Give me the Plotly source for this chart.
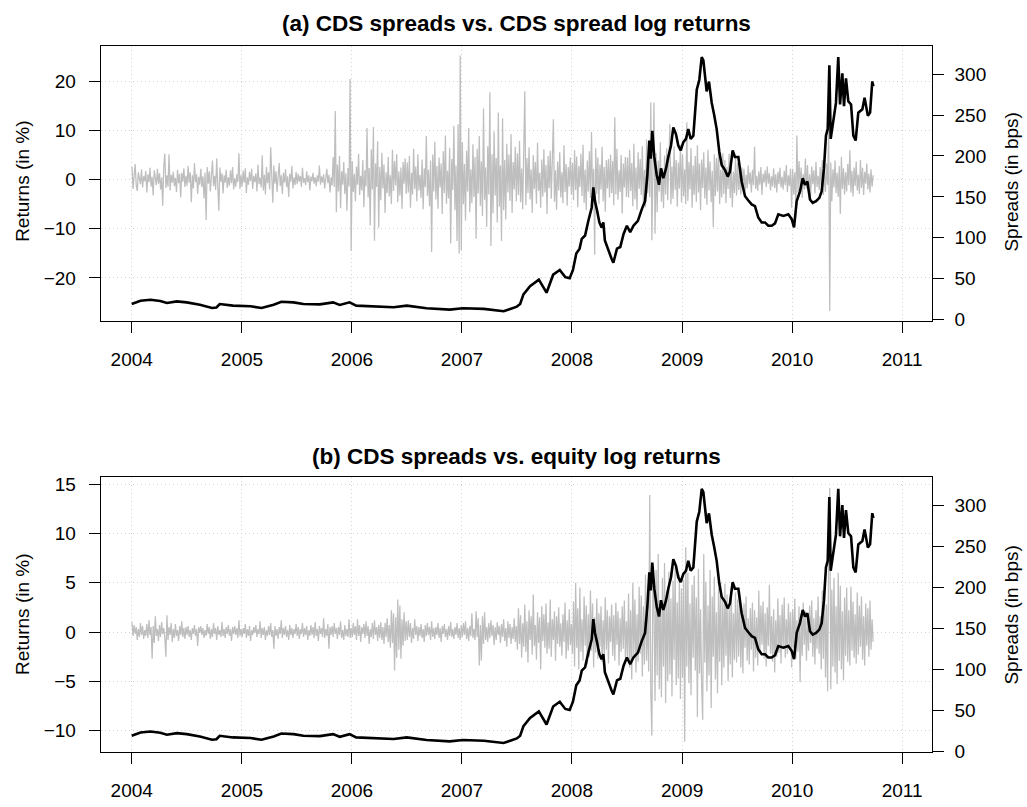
import pandas as pd
import plotly.graph_objects as go

# ---------------- data ----------------
# CDS spread (bps) (same series in both panels)
spread_years = [
    2004.00, 2004.04, 2004.08, 2004.17, 2004.26, 2004.32, 2004.41, 2004.50, 2004.62, 2004.73,
    2004.77, 2004.80, 2004.92, 2005.08, 2005.18, 2005.29, 2005.36, 2005.47, 2005.56, 2005.71,
    2005.83, 2005.89, 2005.98, 2006.04, 2006.20, 2006.38, 2006.50, 2006.68, 2006.89, 2007.01,
    2007.20, 2007.38, 2007.44, 2007.50, 2007.53, 2007.56, 2007.62, 2007.70, 2007.77, 2007.83,
    2007.89, 2007.94, 2007.98, 2008.01, 2008.04, 2008.07, 2008.09, 2008.12, 2008.15, 2008.18,
    2008.195, 2008.21, 2008.23, 2008.25, 2008.27, 2008.286, 2008.30, 2008.33, 2008.36, 2008.377,
    2008.41, 2008.44, 2008.47, 2008.50, 2008.53, 2008.56, 2008.60, 2008.635, 2008.665, 2008.686,
    2008.704, 2008.717, 2008.731, 2008.749, 2008.771, 2008.792, 2008.81, 2008.831, 2008.856, 2008.876,
    2008.901, 2008.922, 2008.946, 2008.967, 2008.989, 2009.013, 2009.037, 2009.058, 2009.08, 2009.104,
    2009.12, 2009.135, 2009.158, 2009.18, 2009.195, 2009.21, 2009.225, 2009.246, 2009.271, 2009.292,
    2009.316, 2009.34, 2009.362, 2009.392, 2009.416, 2009.437, 2009.461, 2009.482, 2009.513, 2009.543,
    2009.574, 2009.604, 2009.634, 2009.664, 2009.694, 2009.725, 2009.755, 2009.785, 2009.816, 2009.846,
    2009.876, 2009.922, 2009.967, 2009.998, 2010.019, 2010.043, 2010.073, 2010.098, 2010.119, 2010.14,
    2010.164, 2010.189, 2010.219, 2010.249, 2010.27, 2010.291, 2010.309, 2010.325, 2010.34, 2010.352,
    2010.376, 2010.40, 2010.421, 2010.437, 2010.458, 2010.473, 2010.491, 2010.512, 2010.537, 2010.558,
    2010.579, 2010.603, 2010.64, 2010.66, 2010.69, 2010.71, 2010.73, 2010.74,
]
spreads = [
    19.2, 21.5, 23.2, 24.4, 22.8, 20.4, 22.4, 21.2, 18.4, 14.4,
    15.0, 19.2, 17.2, 16.4, 14.4, 18.4, 22.0, 21.2, 19.2, 18.8,
    21.2, 18.0, 21.2, 17.2, 16.0, 15.2, 17.2, 14.0, 12.4, 14.0,
    13.2, 10.4, 13.2, 16.0, 19.2, 31, 41, 49, 33, 55,
    60.8, 52, 50.8, 60.8, 80.8, 86.8, 98.8, 102.8, 120.8, 136.8,
    161.6, 144.8, 132.8, 118.8, 112.8, 118.8, 96.8, 84.8, 74.8, 69.6,
    86.8, 88.8, 104.8, 114.8, 106.8, 114.8, 120.8, 134.8, 144.8, 176.8,
    218.8, 196.8, 230.8, 198.8, 176.8, 164.8, 184.8, 172.8, 184.8, 198.8,
    212.8, 234.8, 226.8, 212.8, 206.8, 216.8, 220.8, 232.8, 220.8, 224.8,
    256.8, 280.8, 292.8, 320.8, 316.8, 292.8, 278.8, 290.8, 264.8, 250.8,
    232.8, 204.8, 188.8, 182.8, 174.8, 180.8, 206.8, 198.8, 198.8, 168.8,
    150.8, 145.6, 140.8, 138.8, 124.8, 118.8, 118.8, 114.8, 114.8, 117.6,
    128.8, 126.8, 128.8, 122.8, 112.8, 144.8, 156.8, 172.8, 164.8, 168.8,
    146.8, 142.8, 144.8, 148.8, 156.8, 184.8, 224.8, 232.8, 310.8, 220.8,
    244.8, 264.8, 320.8, 262.8, 300.8, 260.8, 294.8, 266.8, 262.8, 224.8,
    218.8, 252.8, 257, 271, 249, 253, 291, 285,
]

# CDS spread log returns (in %), two readings per week, panel (a)
cds_returns = [
    # 2004 H1
    2.6, -1.9, 0.8, 3.2, -1.2, -2.3, 1.5, 0.4, -0.9, 2.1, -1.6, 0.7, -0.3,
    1.8, -2.6, 1.1, -0.5, 2.4, -1.4, 0.6, -3.2, 1.9, 0.3, -1.1, 2.2, -0.8,
    1.3, -2.0, 0.5, -5.3, 2.7, 5.3, -1.7, 0.9, -1.4, 5.2, -2.2, 1.0, -0.6,
    1.6, -1.3, 0.4, -2.5, 2.0, -0.7, 1.2, -3.6, 1.4, -0.4, 2.3, -1.5, 0.8,
    # 2004 H2
    -1.2, 2.8, -0.6, 1.5, -4.6, 0.9, -1.8, 3.4, -0.5, 1.1, -2.9, 0.6, -1.0,
    2.2, -1.5, 0.7, -3.8, 1.4, -8.2, 2.6, -0.8, 1.7, -2.4, 0.5, 3.9, -1.3,
    0.8, -2.1, 4.3, -1.1, -6.3, 2.5, -0.4, 1.3, -2.8, 0.9, -0.6, 2.0, -1.7,
    0.5, -1.2, 1.9, -0.7, 2.6, -2.0, 0.3, -1.4, 1.1, -0.5, 5.4, -1.9, 0.9,
    # 2005 H1
    -1.4, 1.8, -0.6, 2.3, -2.7, 0.5, -1.0, 1.6, -0.3, 2.2, -1.9, 0.8, -0.5,
    1.3, -2.4, 3.1, -0.9, 0.4, -1.6, 4.9, -2.2, 1.0, -3.0, 2.6, -0.7, 1.5,
    -2.0, 6.6, -1.2, -4.7, 2.9, -0.8, 1.7, -2.5, 0.6, 3.4, -1.3, 0.9, -2.9,
    1.4, -0.6, 2.1, -1.5, 0.7, -3.5, 1.2, -0.4, 2.8, -1.8, 0.5, -1.1, 1.6,
    # 2005 H2
    -0.9, 1.2, -0.4, 0.8, -1.5, 2.4, -0.6, 0.3, -1.1, 1.7, -0.5, 0.9, -2.2,
    0.6, -0.3, 1.4, -0.8, 0.5, -1.3, 0.9, -0.4, 2.9, -1.0, 0.7, -0.6, 1.1,
    -1.8, 0.4, 2.2, -0.7, 1.0, -2.6, 0.5, -1.2, 4.6, -1.5, 14.0, -6.6, 3.1,
    -2.4, 4.8, -5.8, 1.7, -1.0, 3.6, -2.9, 1.3, -6.3, 2.4, -1.4, 20.5, -14.5,
    # 2006 H1
    3.8, -2.5, 1.2, -4.4, 2.7, -1.0, 5.3, -3.1, 0.8, -2.2, 4.0, -5.6, 1.9,
    -1.4, 10.5, -3.6, 2.4, -9.3, 6.2, -2.0, 10.7, -12.4, 3.3, -1.5, 7.8, -9.8,
    2.6, -4.2, 5.5, -1.8, 3.1, -6.8, 1.5, -2.7, 4.6, -3.4, 0.9, -5.0, 6.1,
    -2.3, 3.8, -1.2, 5.2, -4.6, 1.7, -3.2, 2.5, -5.9, 3.6, -0.8, 4.3, -2.9,
    # 2006 H2
    3.5, -2.6, 4.8, -5.7, 1.4, -3.0, 6.3, -1.9, 2.7, -4.4, 5.2, -2.2, 1.0,
    -3.7, 4.1, -6.0, 2.3, -1.5, 8.9, -3.3, 2.0, -5.4, 3.9, -14.7, 5.1, -2.4,
    7.7, -4.0, 2.8, -5.9, 4.5, -1.6, 3.3, -7.0, 5.8, -2.7, 9.0, -4.9, 1.8,
    -3.8, 6.5, -13.0, 4.2, -2.1, 11.0, -6.2, 2.9, -12.5, 11.3, -15.0, 25.3, -14.3,
    # 2007 H1
    7.6, -5.0, 3.2, -8.3, 5.9, -2.4, 10.5, -6.6, 2.1, -4.8, 7.2, -3.5, 4.6,
    -12.0, 6.3, -2.8, 8.9, -5.3, 3.7, -7.4, 14.5, -4.1, 2.5, -9.6, 6.8, -3.0,
    17.8, -13.5, 5.2, -6.9, 9.8, -3.2, 4.4, -8.7, 13.7, -5.5, 2.9, -12.5, 12.5,
    -6.2, 4.0, -8.1, 7.3, -2.6, 5.1, -4.3, 9.3, -6.8, 3.6, -2.0, 6.7, -4.4,
    # 2007 H2
    5.4, -3.1, 7.9, -4.6, 2.3, -6.0, 3.8, 18.0, -5.2, 4.4, -2.7, 6.6, -4.0,
    2.1, -6.8, 5.0, -1.9, 3.6, -4.9, 7.5, -2.3, 1.4, -5.7, 4.1, -3.4, 6.2,
    -2.6, 3.0, -7.0, 4.8, -1.7, 5.9, -3.9, 2.4, 12.3, -4.5, 1.9, -6.1, 3.7,
    -2.2, 5.6, -3.6, 1.5, -4.8, 7.0, -2.5, 3.2, -5.3, 2.6, -1.4, 4.5, -3.0,
    # 2008 H1
    3.4, -4.2, 6.0, -2.1, 4.7, -5.6, 2.8, -1.5, 5.3, -3.3, 7.1, -4.7, 2.0,
    -6.2, 3.9, -2.4, 5.8, -3.7, 9.7, -4.1, 2.2, -15.3, 6.4, -2.9, 4.5, -5.0,
    3.1, -2.0, 6.7, -4.4, 2.6, -6.5, 4.0, -1.8, 4.2, -3.6, 5.1, -2.7, 3.8,
    -5.2, 12.7, -3.0, 6.3, -4.1, 1.9, -2.5, 5.0, -6.9, 3.3, -1.6, 4.6, -3.5,
    # 2008 H2
    4.5, -3.6, 6.1, -2.3, 3.4, -5.4, 7.3, -4.0, 2.5, -6.1, 5.6, -1.9, 4.2,
    -3.1, 6.8, -4.9, 2.0, -5.6, 8.2, -2.8, 4.6, -3.5, 15.7, -12.3, 6.0, 15.7,
    -11.0, 5.4, -6.6, 3.9, -2.4, 7.6, -4.5, 2.2, -5.8, 4.9, -3.0, 6.4, -4.2,
    3.1, 11.3, -5.0, 2.7, -3.9, 6.8, -2.1, 4.0, -5.5, 3.5, -1.8, 7.1, -4.6,
    # 2009 H1
    5.2, -3.4, 2.1, -5.0, 11.7, -4.3, 3.6, -2.0, 6.4, -5.7, 2.9, -3.1, 4.8,
    -4.5, 7.0, -2.6, 3.3, -6.2, 4.1, -1.7, 5.6, -3.8, 2.5, -5.1, 6.1, -2.2,
    3.7, -4.6, 1.8, -9.7, 5.2, -3.3, 4.4, -2.4, 6.3, -5.0, 2.0, -3.6, 5.4,
    -2.9, 4.0, -4.8, 2.6, -1.9, 5.3, -3.7, 3.0, -5.6, 1.6, -2.7, 4.5, -3.2,
    # 2009 H2
    3.4, -2.1, 1.6, -3.0, 2.5, -1.3, 2.2, -2.4, 1.0, -1.8, 2.9, -0.9, 1.5,
    -2.6, 2.0, -1.1, 6.7, -1.9, 0.8, -2.3, 1.7, -1.0, 2.6, -3.1, 1.2, -0.6,
    1.9, -1.5, 2.7, -0.8, 1.3, -2.2, 0.7, -1.4, 2.3, -1.7, 1.1, -2.6, 1.6,
    -0.9, 2.4, -1.6, 0.6, -2.0, 1.8, -1.1, 3.0, -2.5, 0.9, -1.3, 2.2, -5.7,
    # 2010
    2.2, -3.0, 1.5, -5.6, 9.0, -2.6, 3.8, -1.4, 2.5, -3.7, 1.2, -2.0, 4.3,
    -1.8, 3.0, -2.4, 1.1, -3.3, 2.7, -0.9, 1.9, -2.8, 3.6, -1.5, 0.8, -2.1,
    2.6, -1.2, 4.0, -3.1, 1.7, -2.5, 3.3, -1.0, 10.3, -26.7, 3.5, -4.4, 2.1,
    -1.6, 3.9, -2.7, 1.4, -3.5, 2.8, -7.0, 4.6, -1.9, 2.3, -3.0, 1.5, -2.4,
    3.2, -1.1, 6.0, -2.6, 1.8, -3.4, 2.5, -1.3, 3.7, -2.2, 1.0, -2.9, 4.0,
    -1.7, 2.4, -3.1, 1.6, -0.8, 3.3, -2.0, 1.2, -2.6, 2.1, -1.4, 0.9,
]

# equity log returns (in %), two readings per week, panel (b)
equity_returns = [
    # 2004 H1
    1.0, -0.4, 0.7, -0.2, 0.5, -0.8, 0.3, -0.5, 0.9, -0.3, 0.6, -0.7, 0.2,
    -0.4, 0.8, -0.6, 1.2, -0.3, 0.5, -2.7, 0.6, -1.1, 1.6, -0.4, 0.3, -0.9,
    0.7, -0.5, 1.0, -0.2, 0.4, -0.6, -2.5, 1.7, -0.8, 0.5, -0.3, 0.9, -1.0,
    0.3, -0.6, 0.8, -0.4, 0.2, -0.9, 0.6, -0.3, 1.1, -0.5, 0.4, -0.7, 0.5,
    # 2004 H2
    -0.3, 0.6, -0.5, 0.2, -0.8, 0.4, -0.2, 0.7, -0.4, 0.3, -1.4, 0.5, -0.1,
    0.6, -0.3, 0.4, -0.6, 0.2, -0.4, 0.8, -0.2, 0.5, -0.7, 0.3, -0.5, 0.9,
    -0.2, 0.4, -0.8, 0.6, -0.3, 0.2, -0.5, 1.0, -0.4, 0.3, -0.6, 0.5, -0.2,
    0.7, -0.4, 0.3, -0.9, 0.5, -0.2, 0.6, -0.3, 0.4, -0.6, 1.2, -0.4, 0.3,
    # 2005 H1
    -0.5, 0.4, -0.2, 0.8, -0.6, 0.3, -0.4, 0.6, -0.9, 0.2, -0.3, 0.5, -0.1,
    0.7, -0.5, 0.3, -0.2, 1.1, -0.6, 0.4, -0.3, 0.5, -0.8, 0.2, -0.4, 0.6,
    -0.3, 0.9, -0.5, 0.2, -1.7, 0.6, -0.4, 0.3, -0.7, 0.5, -0.2, 1.2, -0.6,
    0.4, -0.3, 0.6, -0.5, 0.2, -0.8, 0.7, -0.3, 0.4, -0.6, 0.3, -0.2, 0.8,
    # 2005 H2
    -0.4, 0.5, -0.7, 0.3, -0.2, 0.9, -0.5, 0.4, -0.3, 0.6, -0.8, 0.2, -0.4,
    0.7, -0.3, 0.5, -0.6, 1.0, -0.4, 0.3, -0.9, 0.6, -0.2, 0.4, -0.5, 1.4,
    -0.6, 0.3, -0.4, 0.8, -1.7, 0.5, -0.3, 0.6, -0.5, 0.9, -0.2, 0.4, -0.7,
    0.5, -0.3, 1.1, -0.6, 0.2, -0.8, 0.7, -0.4, 0.3, -0.5, 1.3, -0.6, 0.4,
    # 2006 H1
    -0.5, 0.9, -0.3, 0.6, -0.8, 1.3, -0.4, 0.7, -1.0, 0.5, -0.2, 0.8, -0.6,
    1.1, -0.4, 0.6, -1.2, 0.3, -0.5, 0.9, -0.7, 1.2, -0.3, 0.5, -0.9, 0.7,
    -0.6, 1.0, -0.8, 0.5, -1.2, 0.9, -0.5, 1.4, -1.0, 0.7, -1.6, 2.2, -1.1,
    1.9, -3.9, 1.5, -2.6, 3.3, -1.8, 2.7, -2.7, 1.3, -1.4, 2.0, -0.9, 1.1,
    # 2006 H2
    -0.8, 1.2, -0.5, 0.9, -1.1, 0.4, -0.7, 1.3, -0.3, 0.6, -0.9, 0.5, -0.4,
    0.8, -0.6, 0.3, -1.0, 0.7, -0.4, 0.9, -0.3, 0.5, -0.8, 1.1, -0.5, 0.4,
    -0.7, 0.5, -0.3, 0.9, -0.6, 0.4, -1.0, 0.6, -0.2, 0.8, -0.5, 0.3, -0.8,
    0.6, -0.4, 1.0, -0.5, 0.3, -0.7, 0.5, -0.3, 0.9, -0.6, 0.4, -0.8, 0.7,
    # 2007 H1
    -0.5, 0.9, -0.3, 1.1, -0.7, 0.4, -0.9, 0.6, -0.4, 1.9, -0.6, 0.3, -0.8,
    2.1, -0.5, 1.4, -3.4, 0.7, -2.9, 1.6, -1.2, 2.0, -0.8, 0.5, -1.0, 0.9,
    -0.6, 1.2, -0.4, 0.7, -1.3, 0.5, -0.8, 1.0, -0.3, 0.6, -1.1, 0.8, -0.5,
    1.3, -0.9, 0.4, -1.5, 1.1, -0.6, 0.8, -1.2, 0.5, -0.7, 1.4, -1.0, 0.6,
    # 2007 H2
    -1.8, 2.4, -1.2, 1.7, -2.6, 0.9, -1.5, 2.8, -2.0, 1.1, -3.1, 2.2, -0.8,
    1.6, -2.3, 3.8, -1.4, 0.7, -2.8, 2.0, -1.1, 1.5, -3.8, 2.6, -0.9, 1.8,
    -1.6, 2.9, -2.2, 1.0, -1.7, 3.3, -2.5, 1.3, -0.8, 2.1, -2.9, 1.6, -1.2,
    2.5, -1.5, 0.9, -2.4, 1.8, -1.0, 3.0, -2.7, 1.2, -1.9, 2.3, -1.3, 0.8,
    # 2008 H1
    -2.2, 3.1, -3.5, 5.0, -1.6, 2.4, -3.8, 4.5, -2.0, 1.3, -2.9, 3.6, -1.4,
    2.7, -3.3, 1.8, -2.5, 4.2, -1.9, 2.9, -3.6, 1.5, -2.1, 3.4, -2.7, 1.9,
    -1.5, 2.6, -3.0, 1.2, -2.3, 3.5, -1.8, 2.2, -3.2, 1.6, -1.0, 2.8, -2.4,
    1.7, -2.9, 3.0, -1.3, 2.1, -3.4, 1.4, -2.0, 2.6, -1.7, 3.2, -2.6, 1.1,
    # 2008 H2
    -2.8, 3.9, -3.6, 2.2, -4.8, 5.0, -2.4, 3.3, -4.1, 1.8, -3.0, 4.6, -2.2,
    3.7, -4.5, 2.6, -3.3, 5.8, -2.9, 1.9, -4.0, 13.9, -6.2, -10.5, 5.4, 3.1,
    -7.0, 6.3, -4.4, 7.9, -5.8, 3.2, -6.6, 5.5, -3.5, 7.0, -7.2, 4.1, -5.0,
    6.1, -4.3, 3.4, -6.5, 5.2, -2.8, 6.6, -5.4, 3.0, -4.7, 5.8, -6.8, 4.4,
    # 2009 H1
    -4.6, 5.3, -11.1, 8.6, -3.5, 6.0, -5.2, 2.9, -6.4, 4.8, -2.6, 5.7, -3.9,
    3.5, -8.6, 6.4, -4.2, 2.3, -5.5, -8.9, 7.9, -3.1, 5.1, -6.0, 2.7, -4.4,
    6.3, -7.7, 3.6, -2.5, 5.6, -4.8, 2.0, -6.2, 4.5, -3.0, 5.0, -5.4, 3.2,
    -3.6, 4.9, -2.4, 3.8, -5.0, 2.5, -3.3, 4.4, -4.6, 1.9, -2.8, 4.0, -3.1,
    # 2009 H2
    3.3, -2.5, 4.1, -3.6, 1.8, -4.2, 2.9, -1.6, 3.6, -2.9, 1.4, -3.3, 2.4,
    -1.8, 3.0, -4.0, 2.2, -2.6, 1.5, -3.4, 4.2, -2.0, 2.7, -1.3, 3.1, -2.7,
    1.9, -3.5, 2.5, -1.4, 4.8, -2.2, 1.6, -3.0, 2.3, -4.1, 1.2, -2.5, 3.4,
    -2.1, 1.7, -3.2, 2.8, -1.5, 3.5, -2.6, 1.3, -2.2, 2.9, -1.7, 2.0, -3.6,
    # 2010
    2.3, -1.6, 3.4, -2.7, 1.2, -2.0, 2.6, -5.1, 1.8, -2.4, 3.0, -1.3, 2.1,
    -2.9, 1.5, -1.9, 2.7, -1.1, 3.2, -2.5, 1.4, -3.3, 2.2, -1.7, 3.6, -2.2,
    1.6, -3.8, 4.2, -2.7, 5.1, -4.6, 2.8, -6.0, 7.5, 14.6, -5.8, 4.3, -3.5,
    5.5, -4.1, 2.6, -5.3, 6.0, -2.9, 4.7, -3.8, 2.1, -4.9, 3.5, -2.4, 4.5,
    -3.0, 2.2, -3.4, 4.6, -1.9, 3.1, -2.6, 1.8, -3.2, 4.0, -2.3, 2.7, -1.5,
    3.6, -2.8, 1.6, -3.4, 2.9, -1.4, 2.4, -2.5, 3.2, -1.8, 1.3, -1.0,
]

year_ticks = [2004, 2005, 2006, 2007, 2008, 2009, 2010, 2011]
ret_ticks_a = [-20, -10, 0, 10, 20]
ret_ticks_b = [-10, -5, 0, 5, 10, 15]
spread_ticks = [0, 50, 100, 150, 200, 250, 300]

# ---------------- helpers ----------------
W, H = 1027, 807
FONT = "Liberation Sans, Arial, Helvetica, sans-serif"


def yr_to_date(y):
    return pd.Timestamp("2004-01-01") + pd.to_timedelta((y - 2004.0) * 365.25, unit="D")


spread_dates = [yr_to_date(y) for y in spread_years]
cds_dates = pd.date_range("2004-01-02", "2010-09-27", periods=len(cds_returns))
eq_dates = pd.date_range("2004-01-02", "2010-09-27", periods=len(equity_returns))

x_range = [yr_to_date(2003.7183), yr_to_date(2011.27)]
x_dom = [100.7 / W, 931.7 / W]
dom_a = [1 - 322.3 / H, 1 - 42.3 / H]
dom_b = [1 - 761.7 / H, 1 - 481.7 / H]

GRAY = "#BEBEBE"
fig = go.Figure()
fig.add_trace(go.Scatter(x=cds_dates, y=cds_returns, mode="lines",
                         line=dict(color=GRAY, width=1.25), xaxis="x", yaxis="y"))
fig.add_trace(go.Scatter(x=spread_dates, y=spreads, mode="lines",
                         line=dict(color="black", width=2.6), xaxis="x", yaxis="y2"))
fig.add_trace(go.Scatter(x=eq_dates, y=equity_returns, mode="lines",
                         line=dict(color=GRAY, width=1.25), xaxis="x2", yaxis="y3"))
fig.add_trace(go.Scatter(x=spread_dates, y=spreads, mode="lines",
                         line=dict(color="black", width=2.6), xaxis="x2", yaxis="y4"))

tickfont = dict(family=FONT, size=19, color="black")
grid = dict(showgrid=True, gridcolor="#D3D3D3", griddash="1px,3px", gridwidth=1)
xcommon = dict(range=x_range, domain=x_dom,
               tickvals=[pd.Timestamp(f"{y}-01-01") for y in year_ticks],
               ticktext=[str(y) for y in year_ticks],
               ticks="outside", ticklen=11, tickcolor="black", tickwidth=1,
               showline=True, linecolor="black", linewidth=1, mirror=True,
               zeroline=False, tickfont=tickfont, ticklabelstandoff=10, **grid)
yleft = dict(ticks="outside", ticklen=11, tickcolor="black", tickwidth=1,
             showline=True, linecolor="black", linewidth=1, mirror=True,
             zeroline=False, tickfont=tickfont, ticklabelstandoff=9, **grid)
yright = dict(side="right", ticks="outside", ticklen=11, tickcolor="black", tickwidth=1,
              showline=False, showgrid=False, zeroline=False, tickfont=tickfont,
              tickvals=spread_ticks, range=[-1.2, 334.8], ticklabelstandoff=7)

fig.update_layout(
    width=W, height=H, autosize=False,
    margin=dict(l=0, r=0, t=0, b=0),
    paper_bgcolor="white", plot_bgcolor="white",
    showlegend=False, hovermode=False,
    font=dict(family=FONT, color="black"),
    xaxis=dict(anchor="y", **xcommon),
    xaxis2=dict(anchor="y3", **xcommon),
    yaxis=dict(anchor="x", domain=dom_a, range=[-28.7, 27.3], tickvals=ret_ticks_a, **yleft),
    yaxis2=dict(anchor="x", overlaying="y", **yright),
    yaxis3=dict(anchor="x2", domain=dom_b, range=[-12.21, 15.68], tickvals=ret_ticks_b, **yleft),
    yaxis4=dict(anchor="x2", overlaying="y3", **yright),
)

cx = (100.7 + 931.7) / 2 / W
ann = [
    dict(text="<b>(a) CDS spreads vs. CDS spread log returns</b>", x=cx, y=1 - 20 / H, size=22.5, angle=0),
    dict(text="<b>(b) CDS spreads vs. equity log returns</b>", x=cx, y=1 - 460 / H, size=22.5, angle=0),
    dict(text="Returns (in %)", x=23 / W, y=1 - 181 / H, size=19, angle=-90),
    dict(text="Spreads (in bps)", x=1011.7 / W, y=1 - 181 / H, size=19, angle=-90),
    dict(text="Returns (in %)", x=23 / W, y=1 - 621.7 / H, size=19, angle=-90),
    dict(text="Spreads (in bps)", x=1011.7 / W, y=1 - 621.7 / H, size=19, angle=-90),
]
for a in ann:
    fig.add_annotation(text=a["text"], x=a["x"], y=a["y"], xref="paper", yref="paper",
                       xanchor="center", yanchor="middle", showarrow=False, textangle=a["angle"],
                       font=dict(family=FONT, size=a["size"], color="black"))

fig.write_html("out.html")
